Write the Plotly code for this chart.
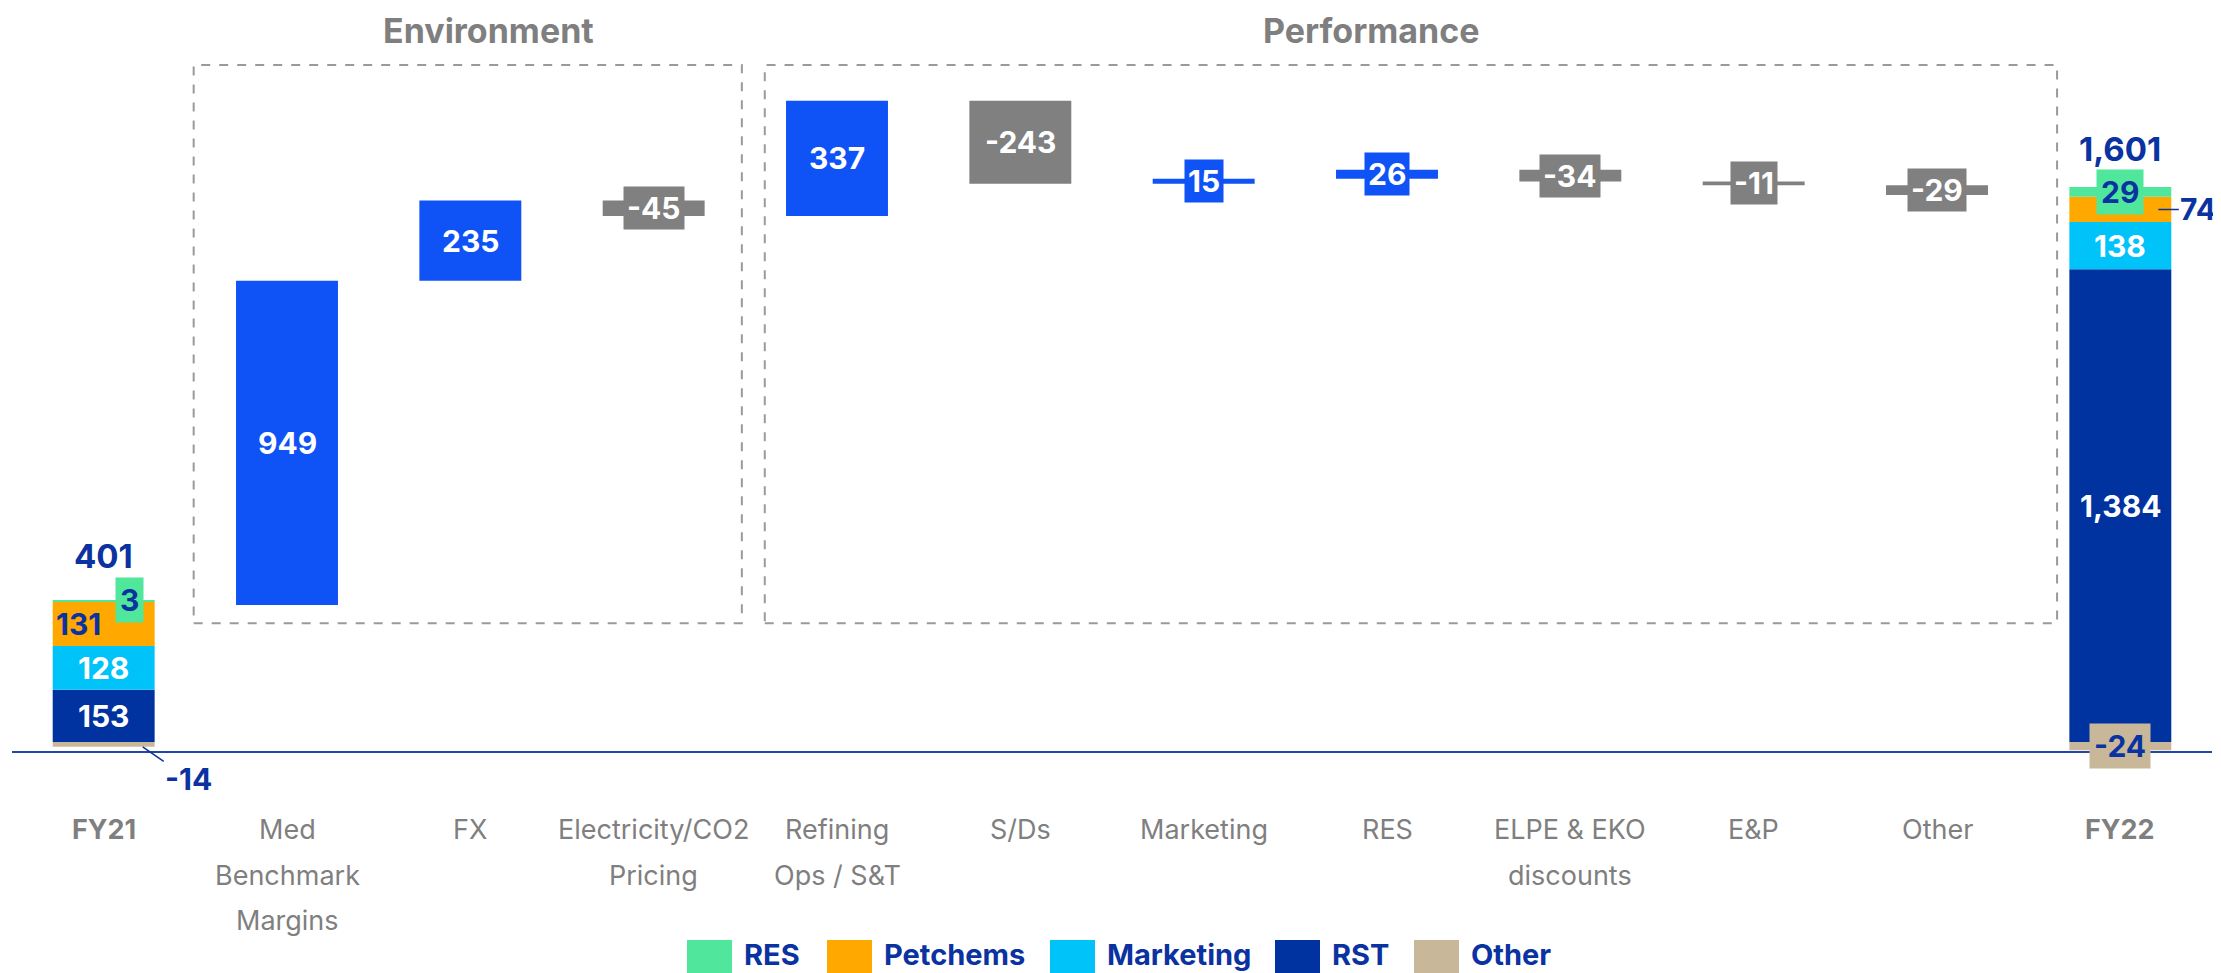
import numpy as np
import plotly.graph_objects as go

# ---------------- data ----------------
categories = ["FY21", "Med Benchmark Margins", "FX", "Electricity/CO2 Pricing",
              "Refining Ops / S&T", "S/Ds", "Marketing", "RES",
              "ELPE & EKO discounts", "E&P", "Other", "FY22"]
tick_lines = [["FY21"], ["Med", "Benchmark", "Margins"], ["FX"],
              ["Electricity/CO2", "Pricing"], ["Refining", "Ops / S&T"], ["S/Ds"],
              ["Marketing"], ["RES"], ["ELPE & EKO", "discounts"], ["E&P"],
              ["Other"], ["FY22"]]
bold_ticks = ["FY21", "FY22"]

segments = ["RST", "Marketing", "Petchems", "RES", "Other"]
fy21_values = [153, 128, 131, 3, -14]
fy22_values = [1384, 138, 74, 29, -24]
fy21_total = 401
fy22_total = 1601

bridge_categories = categories[1:11]
bridge_deltas = [949, 235, -45, 337, -243, 15, 26, -34, -11, -29]

legend_order = ["RES", "Petchems", "Marketing", "RST", "Other"]
group_titles = ["Environment", "Performance"]

# ---------------- styles ----------------
FONT = "Inter"
DARK = "#0A32A0"
GREY_TXT = "#7F7F7F"
seg_colors = {"RST": "#0033A0", "Marketing": "#00C3FA", "Petchems": "#FFA800",
              "RES": "#50E69B", "Other": "#C8B899"}
POS = "#0F52F5"
NEG = "#808080"
BAR_W = 0.556

# page body has an 8px margin -> figure is placed at (8, 8) in the window
OFF = 8
SCREEN_W, SCREEN_H = 2221, 973
W, H = SCREEN_W - OFF, SCREEN_H - OFF
PLOT_L, PLOT_R, PLOT_T, PLOT_B = 12, 2212, 50, 790   # screen pixels
M_L, M_R = PLOT_L - OFF, SCREEN_W - PLOT_R
M_T, M_B = PLOT_T - OFF, SCREEN_H - PLOT_B
PLOT_H = PLOT_B - PLOT_T
PLOT_W = PLOT_R - PLOT_L
Y_MAX, Y_MIN = 2025.8, -140.5


def py(pix):  # screen pixel-from-top -> paper y
    return (PLOT_B - pix) / PLOT_H


def px(pix):  # screen pixel-from-left -> paper x
    return (pix - PLOT_L) / PLOT_W


fig = go.Figure()

# stacked FY21 / FY22 bars
for i, seg in enumerate(segments):
    fig.add_trace(go.Bar(x=["FY21", "FY22"], y=[fy21_values[i], fy22_values[i]],
                         marker=dict(color=seg_colors[seg], line=dict(width=0)),
                         width=BAR_W, name=seg, showlegend=False, hoverinfo="skip"))

# bridge bars
deltas = np.array(bridge_deltas)
bases = fy21_total + np.cumsum(deltas) - deltas
bridge_colors = [POS if d > 0 else NEG for d in deltas]
fig.add_trace(go.Bar(x=bridge_categories, y=deltas, base=bases,
                     marker=dict(color=bridge_colors, line=dict(width=0)),
                     width=BAR_W, showlegend=False, hoverinfo="skip"))

ann = []
# bridge labels
for c, d, b, col in zip(bridge_categories, deltas, bases, bridge_colors):
    ann.append(dict(x=c, y=b + d / 2, xref="x", yref="y", text=f"<b>{d:,}</b>",
                    showarrow=False, bgcolor=col, borderpad=3, yanchor="middle",
                    font=dict(family=FONT, size=30, color="white")))


def stack_positions(vals):
    pos_cum = 0
    neg_cum = 0
    mids = []
    for v in vals:
        if v >= 0:
            mids.append(pos_cum + v / 2)
            pos_cum += v
        else:
            mids.append(neg_cum + v / 2)
            neg_cum += v
    return mids, pos_cum, neg_cum


m21, top21, bot21 = stack_positions(fy21_values)
m22, top22, bot22 = stack_positions(fy22_values)


def seg_label(cat, y, val, color, bg=None, xshift=0):
    d = dict(x=cat, y=y, xref="x", yref="y", text=f"<b>{val:,}</b>", showarrow=False,
             xshift=xshift, yanchor="middle", font=dict(family=FONT, size=30, color=color))
    if bg:
        d.update(bgcolor=bg, borderpad=4)
    return d


# FY21 labels
ann.append(seg_label("FY21", m21[0], fy21_values[0], "white"))
ann.append(seg_label("FY21", m21[1], fy21_values[1], "white"))
ann.append(seg_label("FY21", m21[2], fy21_values[2], DARK, xshift=-25))
ann.append(seg_label("FY21", top21, fy21_values[3], DARK, bg=seg_colors["RES"], xshift=26))
ann.append(dict(x="FY21", y=bot21, xref="x", yref="y", text=f"<b>{fy21_values[4]:,}</b>",
                showarrow=True, arrowhead=0, arrowwidth=1.5, arrowcolor=DARK,
                ax=46, ay=32, xshift=39, font=dict(family=FONT, size=30, color=DARK)))
ann.append(dict(x="FY21", y=top21, xref="x", yref="y", text=f"<b>{fy21_total:,}</b>",
                showarrow=False, yshift=44, yanchor="middle",
                font=dict(family=FONT, size=33, color=DARK)))

# FY22 labels
ann.append(seg_label("FY22", m22[0], fy22_values[0], "white"))
ann.append(seg_label("FY22", m22[1], fy22_values[1], "white"))
ann.append(dict(x="FY22", y=m22[2], xref="x", yref="y", text=f"<b>{fy22_values[2]:,}</b>",
                showarrow=True, arrowhead=0, arrowwidth=1.5, arrowcolor=DARK,
                ax=40, ay=0, xshift=38, font=dict(family=FONT, size=30, color=DARK)))
ann.append(seg_label("FY22", m22[3], fy22_values[3], DARK, bg=seg_colors["RES"]))
ann.append(seg_label("FY22", m22[4], fy22_values[4], DARK, bg=seg_colors["Other"]))
ann.append(dict(x="FY22", y=top22, xref="x", yref="y", text=f"<b>{fy22_total:,}</b>",
                showarrow=False, yshift=38, yanchor="middle",
                font=dict(family=FONT, size=33, color=DARK)))

# category labels (one annotation per line for wider line spacing)
line_pix = [830, 875, 920]
for cat, lines in zip(categories, tick_lines):
    for k, ln in enumerate(lines):
        txt = f"<b>{ln}</b>" if cat in bold_ticks else ln
        ann.append(dict(x=cat, y=py(line_pix[k]), xref="x", yref="paper", text=txt,
                        showarrow=False, yanchor="middle",
                        font=dict(family=FONT, size=27, color=GREY_TXT)))

# group titles
for title, xpos in zip(group_titles, [2.10, 6.91]):
    ann.append(dict(x=xpos, y=py(30), xref="x", yref="paper", text=f"<b>{title}</b>",
                    showarrow=False, yanchor="middle", borderpad=0,
                    font=dict(family=FONT, size=34, color=GREY_TXT)))

shapes = []
# dashed group boxes
box_style = dict(type="rect", xref="x", yref="y",
                 line=dict(color="#9A9A9A", width=2, dash="dash"),
                 fillcolor="rgba(0,0,0,0)", layer="below")
shapes.append(dict(x0=0.491, x1=3.481, y0=348, y1=1982, **box_style))
shapes.append(dict(x0=3.606, x1=10.655, y0=348, y1=1982, **box_style))
# baseline
shapes.append(dict(type="line", xref="paper", yref="y", x0=0, x1=1, y0=-29, y1=-29,
                   line=dict(color="#2447A5", width=2), layer="below"))

# custom legend
legend_left = [687, 827, 1050, 1275, 1414]
for name, lx in zip(legend_order, legend_left):
    shapes.append(dict(type="rect", xref="paper", yref="paper", x0=px(lx), x1=px(lx + 45),
                       y0=py(976), y1=py(940), fillcolor=seg_colors[name], line=dict(width=0)))
    ann.append(dict(x=px(lx + 56), y=py(954), xref="paper", yref="paper", text=f"<b>{name}</b>",
                    xanchor="left", yanchor="middle", showarrow=False, borderpad=0,
                    font=dict(family=FONT, size=29, color=DARK)))

fig.update_layout(
    width=W, height=H, barmode="relative",
    margin=dict(l=M_L, r=M_R, t=M_T, b=M_B),
    paper_bgcolor="white", plot_bgcolor="white",
    font=dict(family=FONT),
    xaxis=dict(type="category", categoryorder="array", categoryarray=categories,
               showticklabels=False, showgrid=False, zeroline=False, showline=False,
               ticks="", range=[-0.5, 11.5], fixedrange=True),
    yaxis=dict(range=[Y_MIN, Y_MAX], visible=False, fixedrange=True),
    annotations=ann, shapes=shapes, showlegend=False,
)

fig.write_html("out.html")
